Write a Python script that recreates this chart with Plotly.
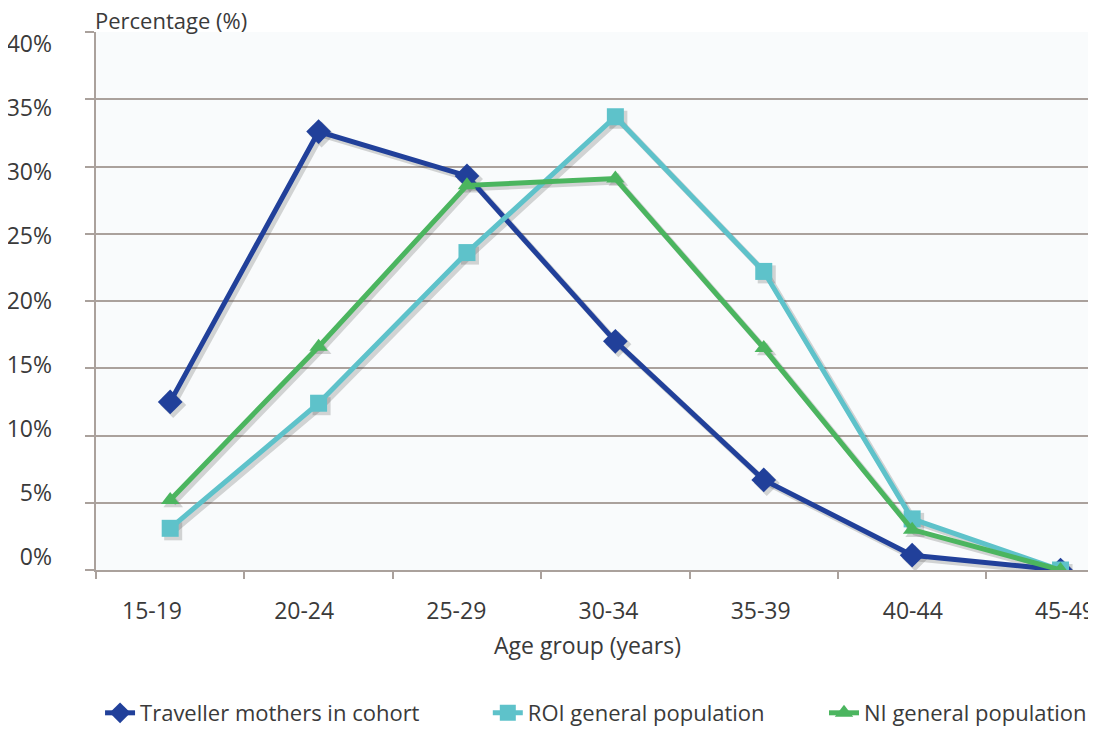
import plotly.graph_objects as go

age_groups = ["15-19", "20-24", "25-29", "30-34", "35-39", "40-44", "45-49"]
traveller = [12.5, 32.6, 29.3, 17.0, 6.7, 1.1, 0.0]
roi = [3.1, 12.4, 23.6, 33.7, 22.2, 3.8, 0.0]
ni = [5.2, 16.6, 28.6, 29.1, 16.5, 3.0, 0.0]
y_ticks = [0, 5, 10, 15, 20, 25, 30, 35, 40]
y_tick_labels = [f"{v}%" for v in y_ticks]

FONT = "Open Sans"
FS = 23
TXT = "#3a3a3a"
GRID = "#aaa19c"

X_RANGE = [-0.5, 6.239]
Y_RANGE = [0, 40]
PX_X = 1000 / (X_RANGE[1] - X_RANGE[0])
PX_Y = 538 / (Y_RANGE[1] - Y_RANGE[0])
SH = 3  # shadow offset in px

fig = go.Figure()
series = [
    ("Traveller mothers in cohort", traveller, "#21409a", "diamond", 19, "legend"),
    ("ROI general population", roi, "#5ec2ca", "square", 17, "legend2"),
    ("NI general population", ni, "#4bb55f", "triangle-up", 16, "legend3"),
]
# invisible trace so the base subplot (grid + axis lines) is drawn
fig.add_trace(go.Scatter(
    x=age_groups, y=roi, mode="markers", marker=dict(opacity=0),
    hoverinfo="skip", showlegend=False,
))
# label-only overlay axes (the reference's tick labels sit on a slightly different spacing)
fig.add_trace(go.Scatter(
    x=age_groups, y=roi, xaxis="x2", yaxis="y2", mode="markers",
    marker=dict(opacity=0), hoverinfo="skip", showlegend=False,
))
# drop shadows (offset overlay axes)
for name, vals, color, sym, size, leg in series:
    fig.add_trace(go.Scatter(
        x=age_groups, y=vals, xaxis="x3", yaxis="y3", mode="lines+markers",
        line=dict(color="rgba(70,70,70,0.22)", width=6),
        marker=dict(symbol=sym, size=size + 1, color="rgba(70,70,70,0.22)"),
        hoverinfo="skip", showlegend=False,
    ))
for name, vals, color, sym, size, leg in series:
    fig.add_trace(go.Scatter(
        x=age_groups, y=vals, xaxis="x4", yaxis="y4", name=name, mode="lines+markers",
        line=dict(color=color, width=5),
        marker=dict(symbol=sym, size=size, color=color),
        legend=leg,
    ))

# page body adds an 8px offset; compensate with size/margins
fig.update_layout(
    width=1088, height=734,
    margin=dict(l=88, r=0, t=24, b=172, autoexpand=False),
    paper_bgcolor="white",
    plot_bgcolor="#f9fbfc",
    font=dict(family=FONT, size=FS, color=TXT),
    showlegend=True,
)
legend_common = dict(orientation="h", xref="container", yref="container",
                     yanchor="middle", xanchor="left", y=0.0395,
                     bgcolor="rgba(0,0,0,0)", font=dict(family=FONT, size=22, color=TXT))
fig.update_layout(
    legend=dict(x=0.0846, **legend_common),
    legend2=dict(x=0.441, **legend_common),
    legend3=dict(x=0.750, **legend_common),
)

hidden = dict(showgrid=False, zeroline=False, showline=False, showticklabels=False,
              ticks="", automargin=False, fixedrange=True)
fig.update_layout(
    xaxis=dict(
        type="category", range=X_RANGE, automargin=False,
        showline=True, linecolor=GRID, linewidth=2,
        ticks="outside", tickson="boundaries", ticklen=7, tickcolor=GRID, tickwidth=2,
        showgrid=False, showticklabels=False,
    ),
    yaxis=dict(
        range=Y_RANGE, tickvals=y_ticks, automargin=False,
        showline=True, linecolor=GRID, linewidth=2,
        showgrid=True, gridcolor=GRID, gridwidth=2,
        ticks="outside", ticklen=9, tickcolor=GRID, tickwidth=2,
        showticklabels=False, zeroline=False,
    ),
    xaxis2=dict(
        type="category", overlaying="x", anchor="y2", side="bottom",
        range=[-0.368, 6.204], automargin=False,
        showline=False, showgrid=False, zeroline=False, ticks="",
        ticklabelstandoff=25,
        tickfont=dict(family=FONT, size=FS, color=TXT),
    ),
    yaxis2=dict(
        overlaying="y", anchor="x2", side="left",
        range=[-1.014, 40.936], tickvals=y_ticks, ticktext=y_tick_labels,
        automargin=False, showline=False, showgrid=False, zeroline=False, ticks="",
        ticklabelstandoff=43,
        tickfont=dict(family=FONT, size=FS, color=TXT),
    ),
    xaxis3=dict(type="category", overlaying="x", anchor="y3",
                range=[X_RANGE[0] - SH / PX_X, X_RANGE[1] - SH / PX_X], **hidden),
    yaxis3=dict(overlaying="y", anchor="x3",
                range=[Y_RANGE[0] + SH / PX_Y, Y_RANGE[1] + SH / PX_Y], **hidden),
    xaxis4=dict(type="category", overlaying="x", anchor="y4", range=X_RANGE, **hidden),
    yaxis4=dict(overlaying="y", anchor="x4", range=Y_RANGE, **hidden),
)

fig.add_annotation(
    text="Age group (years)", xref="paper", yref="paper",
    x=0.491, y=-0.1394, xanchor="center", yanchor="middle", showarrow=False,
    font=dict(family=FONT, size=FS, color=TXT),
)
fig.add_annotation(
    text="Percentage (%)", xref="paper", yref="paper",
    x=-0.003, y=1.022, xanchor="left", yanchor="middle", showarrow=False,
    font=dict(family=FONT, size=22, color=TXT),
)

fig.write_html("out.html")
